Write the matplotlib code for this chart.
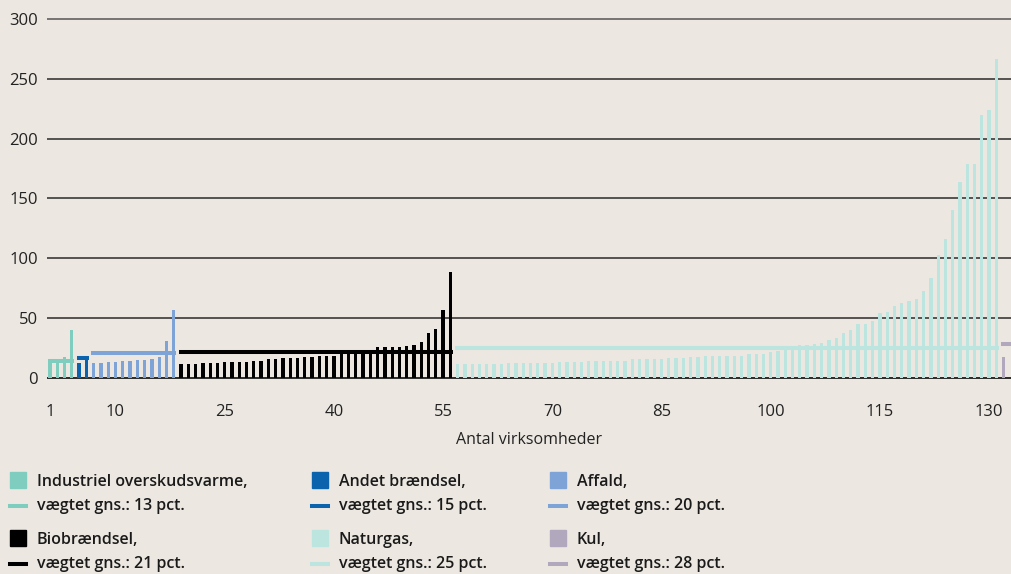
import numpy as np
import matplotlib
matplotlib.use("Agg")
import matplotlib.pyplot as plt
from matplotlib.patches import Rectangle
from matplotlib.lines import Line2D

# ---------------- data ----------------
industri = [13, 13, 17, 40]
andet = [12, 17]
affald = [12, 12, 12.6, 12.6, 13.7, 13.7, 14.6, 14.6, 15.7, 17.3, 30.2, 56.9]
bio = [11, 11, 11, 11.9, 11.9, 11.9, 13, 13, 13, 13, 14.1, 14.1, 15.2, 15.2,
       16.1, 16.1, 16.1, 17.2, 17.2, 18, 18, 18, 19.5, 20, 20.5, 21, 22,
       25.3, 25.3, 25.3, 25.3, 26.3, 27.2, 29.5, 37.3, 40.4, 56.3, 88.1]
naturgas = [11.3] * 7 + [12.2] * 7 + [13.0] * 4 + [14.1] * 6 + [15.2] * 5 + \
           [16.3] * 3 + [17.2] * 2 + [18.0] * 6 + [20.0] * 3 + \
           [21.1, 22.3, 24, 25, 27.0, 27.0, 28.1, 28.9, 31.1, 33.1, 37.0, 40.1,
            44.8, 44.8, 47.1, 54.1, 55.2, 59.9, 62.2, 64.1, 66.1, 72.2, 83.1,
            102.9, 116, 140, 164, 179, 179, 220, 224, 267]
kul = [17]

gennemsnit = [14, 16.5, 20.5, 21, 25, 28]

names = ["Industriel overskudsvarme,", "Andet brændsel,", "Affald,",
         "Biobrændsel,", "Naturgas,", "Kul,"]
avg_labels = ["vægtet gns.: 13 pct.", "vægtet gns.: 15 pct.", "vægtet gns.: 20 pct.",
              "vægtet gns.: 21 pct.", "vægtet gns.: 25 pct.", "vægtet gns.: 28 pct."]
colors = ["#7fcdbf", "#0c63ad", "#7ea3d6", "#000000", "#bde5df", "#b2a8bd"]

xticks = [1, 10, 25, 40, 55, 70, 85, 100, 115, 130]
yticks = [0, 50, 100, 150, 200, 250, 300]
xlabel = "Antal virksomheder"

# ---------------- figure ----------------
BG = "#ece8e1"
W, H = 1011, 574
fig = plt.figure(figsize=(W / 100, H / 100), dpi=100, facecolor=BG)

ax_left, ax_right = 47, 1011
ax_top, ax_bot = 10, 380
ax = fig.add_axes([ax_left / W, (H - ax_bot) / H, (ax_right - ax_left) / W,
                   (ax_bot - ax_top) / H])
ax.set_facecolor(BG)

pxu = 59.7 / 50  # px per y unit
ymax = 300 + (19.3 - ax_top) / pxu
ymin = -(ax_bot - 377.5) / pxu
ax.set_ylim(ymin, ymax)
step = 7.28
xmin = 1 - 3 / step
xmax = xmin + (ax_right - ax_left) / step
ax.set_xlim(xmin, xmax)

groups = [industri, andet, affald, bio, naturgas, kul]
bw = 0.45
start = 1
for vals, col, avg in zip(groups, colors, gennemsnit):
    pos = np.arange(start, start + len(vals))
    ax.bar(pos, vals, width=bw, color=col, zorder=3, linewidth=0)
    x0 = pos[0] - bw / 2 - 0.1
    x1 = pos[-1] + bw / 2 + 0.1
    if col == colors[-1]:
        x1 = pos[-1] + 3
    ax.hlines(avg, x0, x1, colors=col, linewidth=2.9, zorder=4)
    start += len(vals)

for yv in yticks:
    ax.axhline(yv, color="#555555" if yv == 300 else "#2a2a2a",
               linewidth=1.4 if yv == 0 else 1.1, zorder=2)

for s in ax.spines.values():
    s.set_visible(False)

tickfont = dict(family="Open Sans", size=12, color="#222222")
ax.set_yticks(yticks)
ax.set_yticklabels([str(v) for v in yticks], **tickfont)
ax.set_xticks(xticks)
ax.set_xticklabels([str(v) for v in xticks], **tickfont)
ax.tick_params(axis="y", length=0, pad=6.5)
ax.tick_params(axis="x", length=0, pad=17)

fig.text((ax_left + ax_right) / 2 / W, 1 - 440 / H, xlabel, ha="center",
         va="center", fontsize=11.5, family="Open Sans", color="#222222")

# ---------------- legend ----------------
col_x = [10, 312, 550]
row_y = [480, 538]
lfont = dict(family="Open Sans", fontweight="semibold", fontsize=11.5,
             color="#1a1a1a")
for i, (nm, al, c) in enumerate(zip(names, avg_labels, colors)):
    r, cc = divmod(i, 3)
    x = col_x[cc]
    y = row_y[r]
    fig.patches.append(Rectangle((x / W, 1 - (y + 8) / H), 16 / W, 16 / H,
                                 transform=fig.transFigure, color=c))
    fig.text((x + 27) / W, 1 - (y + 1.5) / H, nm, ha="left", va="center", **lfont)
    fig.lines.append(Line2D([x / W, (x + 16) / W], [1 - (y + 25.5) / H] * 2,
                            transform=fig.transFigure, color=c, linewidth=2.9))
    fig.text((x + 27) / W, 1 - (y + 25.5) / H, al, ha="left", va="center", **lfont)

fig.savefig("out.png", dpi=100, facecolor=BG)
